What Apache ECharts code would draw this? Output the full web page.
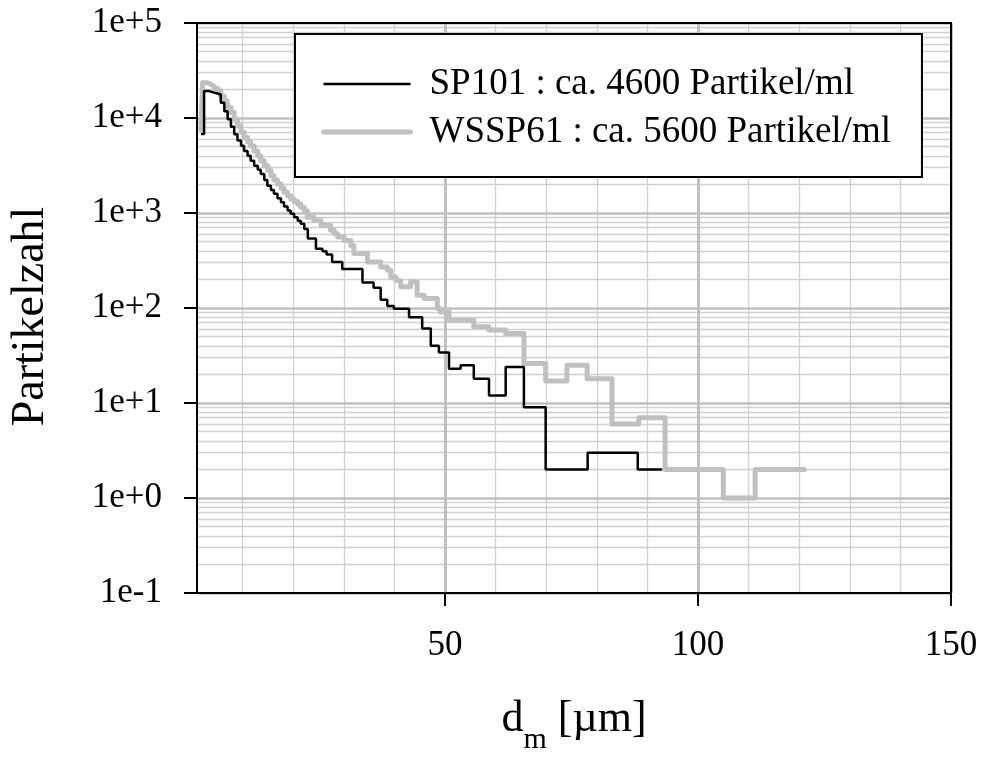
<!DOCTYPE html>
<html><head><meta charset="utf-8">
<script src="https://cdn.jsdelivr.net/npm/echarts@6/dist/echarts.min.js"></script>
<style>html,body{margin:0;padding:0;background:#fff}#c{width:982px;height:760px}</style>
</head><body><div id="c"></div>
<script>
// ---- data ----
const sp101X = [1.8, 2.4, 3.4, 4.4, 5.7, 6.4, 7.05, 7.7, 8.35, 9.0, 9.7, 10.3, 11.0, 11.6, 12.3, 13.0, 13.6, 14.3, 14.9, 15.6, 16.2, 16.9, 17.6, 18.2, 18.9, 19.5, 20.2, 20.9, 21.5, 22.2, 22.9, 24.5, 25.8, 26.6, 27.7, 29.7, 33.7, 35.9, 37.3, 38.6, 39.9, 42.9, 45.5, 47.2, 48.8, 50.8, 53.1, 55.7, 58.7, 62.0, 65.6, 69.9, 78.2, 88.1, 92.9];
const sp101Y = [6800, 19200, 18500, 17700, 14500, 11800, 9700, 8100, 6750, 5800, 5100, 4500, 4000, 3550, 3150, 2850, 2570, 2220, 1940, 1750, 1590, 1430, 1300, 1170, 1060, 980, 900, 830, 770, 680, 540, 420, 395, 365, 305, 258, 186, 163, 122, 105, 98, 80, 61, 40, 34, 23, 25, 18, 12, 24, 9, 2, 3, 2, 2];
const wsspX = [1.8, 2.1, 3.1, 3.75, 4.4, 5.1, 5.7, 6.4, 7.0, 7.7, 8.35, 9.0, 9.7, 10.3, 11.0, 11.6, 12.3, 13.0, 13.6, 14.3, 15.0, 15.6, 16.2, 16.9, 17.6, 18.2, 18.9, 19.5, 20.2, 20.9, 21.5, 22.2, 22.8, 24.1, 25.5, 27.4, 28.1, 28.8, 30.1, 31.4, 32.0, 34.7, 37.3, 38.6, 39.3, 40.3, 41.25, 43.2, 44.5, 45.9, 48.5, 49.1, 50.8, 55.7, 58.7, 62.0, 65.6, 69.9, 74.1, 78.1, 83.0, 88.3, 93.5, 105.0, 111.3, 121.0];
const wsspY = [7600, 23500, 22600, 21600, 20500, 19200, 17000, 15100, 13000, 11400, 9700, 8240, 7100, 6230, 5600, 5085, 4500, 4000, 3550, 3140, 2800, 2470, 2230, 2020, 1820, 1650, 1520, 1400, 1320, 1245, 1150, 1050, 904, 832, 738, 660, 604, 560, 514, 455, 375, 305, 270, 249, 212, 195, 167, 188, 136, 126, 99, 91, 74.5, 63.5, 58.5, 54, 26, 17, 25, 18, 6, 7, 2, 1, 2, 2];
const seriesNames = ['SP101 : ca. 4600 Partikel/ml', 'WSSP61 : ca. 5600 Partikel/ml'];
const xTickValues = [50, 100, 150];
const xMinorGrid = [10, 20, 30, 40, 60, 70, 80, 90, 110, 120, 130, 140];
const yTickLabels = ['1e-1', '1e+0', '1e+1', '1e+2', '1e+3', '1e+4', '1e+5'];
const yMinorMantissas = [2, 3, 4, 5, 6, 7, 8, 9];
const xRange = [1, 150];
const yRange = [0.1, 100000];

// ---- build ----
const FONT = "'Liberation Serif', 'Times New Roman', serif";
const zip = (xs, ys) => xs.map((x, i) => [x, ys[i]]);
const expMin = Math.round(Math.log10(yRange[0])), expMax = Math.round(Math.log10(yRange[1]));
const minorLogPos = [];
for (let e = expMin; e < expMax; e++) yMinorMantissas.forEach(m => minorLogPos.push(e + Math.log10(m)));

const chart = echarts.init(document.getElementById('c'), null, {renderer: 'canvas'});
chart.setOption({
  animation: false,
  backgroundColor: '#fff',
  grid: {left: 196, right: 31, top: 23, bottom: 164},
  legend: {
    orient: 'vertical', left: 295, top: 34,
    padding: [30, 31, 25, 26],
    itemWidth: 87, itemHeight: 20, itemGap: 8,
    backgroundColor: '#fff', borderColor: '#000', borderWidth: 2,
    lineStyle: {width: 'inherit'},
    itemStyle: {opacity: 0},
    textStyle: {fontFamily: FONT, fontSize: 37, color: '#000', lineHeight: 40, padding: [0, 0, 0, 14]},
    data: seriesNames
  },
  xAxis: [
    {
      type: 'value', position: 'bottom', min: xRange[0], max: xRange[1], z: 1,
      axisLine: {show: true, onZero: false, lineStyle: {color: '#000', width: 2}},
      axisTick: {show: true, inside: false, length: 13, customValues: xTickValues, lineStyle: {color: '#000', width: 2}},
      axisLabel: {customValues: xTickValues, margin: 35, fontFamily: FONT, fontSize: 35, color: '#000'},
      splitLine: {show: true, lineStyle: {color: '#c0c0c0', width: 3}},
      name: '{a|d}{b|m}{a| [µm]}', nameLocation: 'middle', nameGap: 118,
      nameTextStyle: {rich: {
        a: {fontFamily: FONT, fontSize: 44, lineHeight: 44, color: '#000', padding: [0, 0, 14, 0], verticalAlign: 'bottom'},
        b: {fontFamily: FONT, fontSize: 30, lineHeight: 30, color: '#000', verticalAlign: 'bottom'}
      }}
    },
    {
      type: 'value', position: 'bottom', min: xRange[0], max: xRange[1], z: 0,
      axisLine: {show: false, onZero: false},
      axisTick: {show: false, customValues: xMinorGrid},
      axisLabel: {show: false},
      splitLine: {show: true, lineStyle: {color: '#d0d0d0', width: 1.3}}
    },
    {
      type: 'value', position: 'top', min: xRange[0], max: xRange[1], z: 3,
      axisLine: {show: true, onZero: false, lineStyle: {color: '#000', width: 2}},
      axisTick: {show: false}, axisLabel: {show: false}, splitLine: {show: false}
    }
  ],
  yAxis: [
    {
      type: 'log', logBase: 10, position: 'left', min: yRange[0], max: yRange[1], z: 1,
      axisLine: {show: true, onZero: false, lineStyle: {color: '#000', width: 2}},
      axisTick: {show: true, inside: false, length: 13, lineStyle: {color: '#000', width: 2}},
      axisLabel: {margin: 35, fontFamily: FONT, fontSize: 35, color: '#000',
        formatter: v => yTickLabels[Math.round(Math.log10(v)) - expMin]},
      splitLine: {show: true, lineStyle: {color: '#c0c0c0', width: 2.5}},
      minorTick: {show: false}, minorSplitLine: {show: false},
      name: 'Partikelzahl', nameLocation: 'middle', nameGap: 143, nameRotate: 90,
      nameTextStyle: {fontFamily: FONT, fontSize: 46, lineHeight: 46, color: '#000', padding: [0, 17, 0, 0]}
    },
    {
      type: 'value', position: 'left', min: expMin, max: expMax, z: 0,
      axisLine: {show: false, onZero: false},
      axisTick: {show: false, customValues: minorLogPos},
      axisLabel: {show: false},
      splitLine: {show: true, lineStyle: {color: '#d0d0d0', width: 1.3}}
    },
    {
      type: 'log', logBase: 10, position: 'right', min: yRange[0], max: yRange[1], z: 3,
      axisLine: {show: true, onZero: false, lineStyle: {color: '#000', width: 2}},
      axisTick: {show: false}, axisLabel: {show: false}, splitLine: {show: false}
    }
  ],
  series: [
    {
      name: seriesNames[0], type: 'line', step: 'end', symbol: 'none', xAxisIndex: 0, yAxisIndex: 0, z: 3,
      data: zip(sp101X, sp101Y),
      lineStyle: {color: '#000', width: 2.5}, itemStyle: {color: '#000'}
    },
    {
      name: seriesNames[1], type: 'line', step: 'end', symbol: 'none', xAxisIndex: 0, yAxisIndex: 0, z: 2,
      data: zip(wsspX, wsspY),
      lineStyle: {color: '#c0c0c0', width: 5, cap: 'round', join: 'round'}, itemStyle: {color: '#c0c0c0'}
    }
  ]
});
</script></body></html>
